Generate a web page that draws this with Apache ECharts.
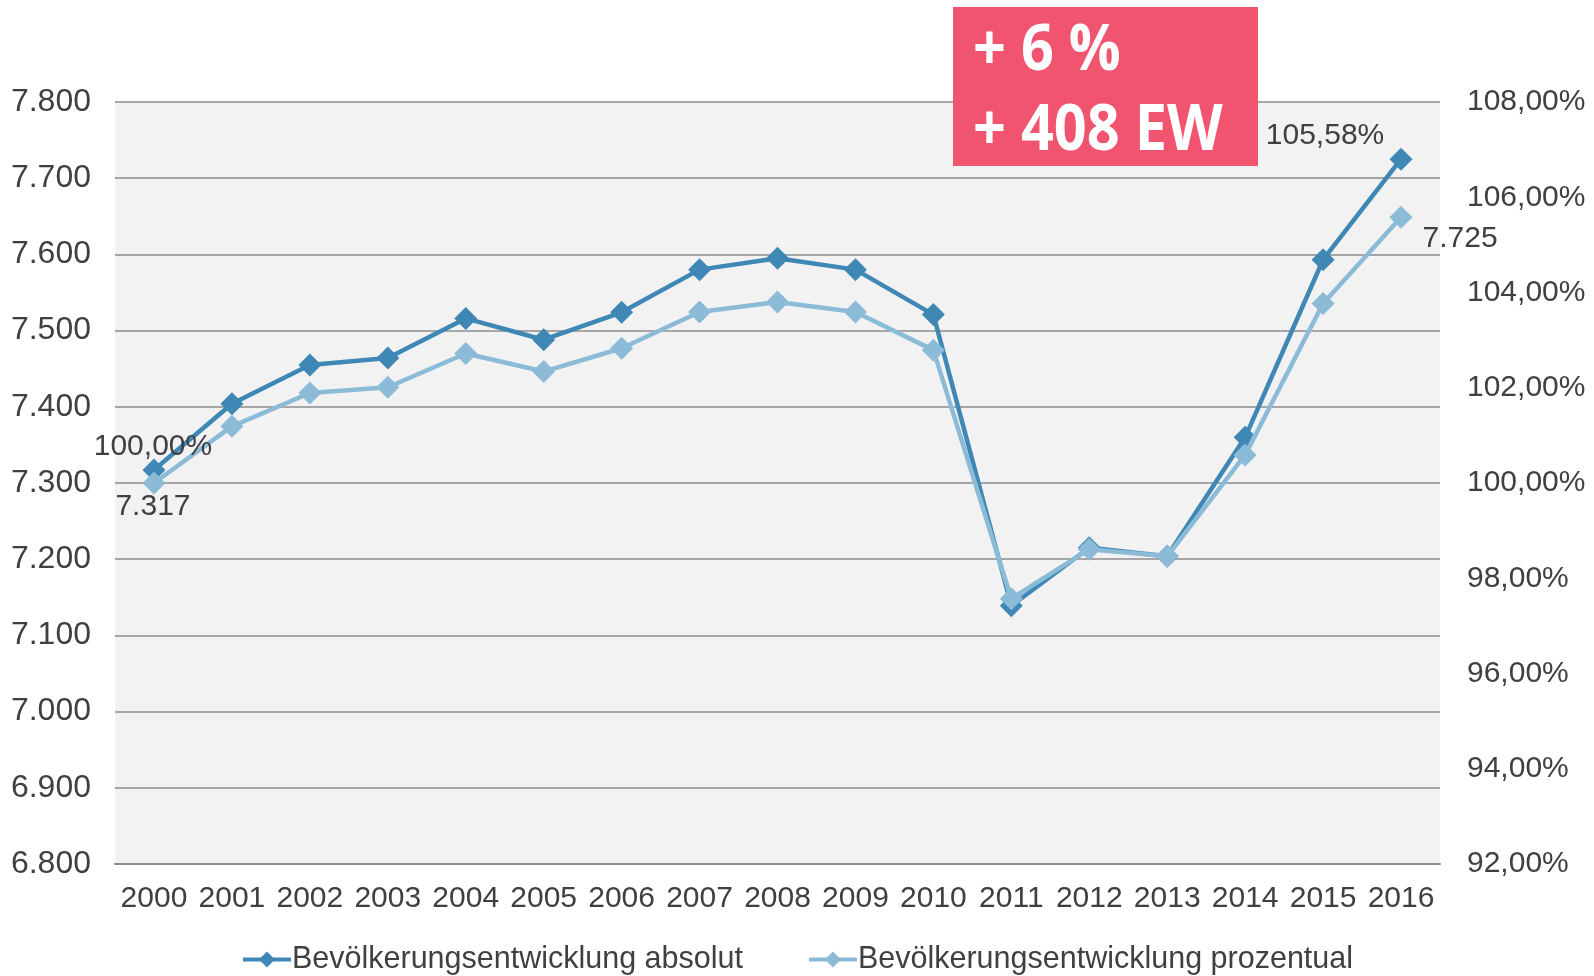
<!DOCTYPE html>
<html>
<head>
<meta charset="utf-8">
<script src="https://cdn.jsdelivr.net/npm/echarts@6/dist/echarts.min.js"></script>
<style>
  html, body { margin: 0; padding: 0; background: #fff; }
  #main { width: 1594px; height: 976px; }
</style>
</head>
<body>
<div id="main"></div>
<script>
// Jahre
var years = ['2000', '2001', '2002', '2003', '2004', '2005', '2006', '2007', '2008',
             '2009', '2010', '2011', '2012', '2013', '2014', '2015', '2016'];
// Einwohner absolut (linke Achse)
var absolut = [7317, 7404, 7455, 7464, 7516, 7488, 7524, 7580, 7595,
               7580, 7521, 7139, 7215, 7204, 7360, 7593, 7725];
// Einwohner in % von 2000 (rechte Achse)
var prozentual = [100.00, 101.19, 101.89, 102.01, 102.72, 102.34, 102.83, 103.59, 103.80,
                  103.59, 102.79, 97.57, 98.61, 98.46, 100.59, 103.77, 105.58];
var leftTicks = { min: 6800, max: 7800, interval: 100 };
var rightTicks = { min: 92, max: 108, interval: 2 };

var darkBlue = '#3f87b5';
var lightBlue = '#8bbbd7';
var txt = '#404040';
var font = 'Liberation Sans, Arial, sans-serif';

function fmtAbs(v) {
    return String(v).replace(/\B(?=(\d{3})+(?!\d))/g, '.');
}
function fmtPct(v) {
    return v.toFixed(2).replace('.', ',') + '%';
}

var last = years.length - 1;
// nur erster und letzter Punkt bekommen ein Label
var absData = absolut.map(function (v, i) {
    if (i === 0) return { value: v, label: { show: true, position: 'inside', offset: [-1, 37] } };
    if (i === last) return { value: v, label: { show: true, position: 'inside', offset: [59, 80] } };
    return v;
});
var pctData = prozentual.map(function (v, i) {
    if (i === 0) return { value: v, label: { show: true, position: 'inside', offset: [-1, -36] } };
    if (i === last) return { value: v, label: { show: true, position: 'inside', offset: [-76, -82] } };
    return v;
});

var chart = echarts.init(document.getElementById('main'));
var option = {
    animation: false,
    textStyle: { fontFamily: font },
    grid: {
        left: 115, right: 154, top: 102, bottom: 112,
        show: true, backgroundColor: '#f2f2f2', borderWidth: 0
    },
    xAxis: {
        type: 'category',
        data: years,
        boundaryGap: true,
        axisLine: { lineStyle: { color: '#8c8c8c', width: 2 } },
        axisTick: { show: false },
        axisLabel: { color: txt, fontSize: 30, margin: 20, fontFamily: font, interval: 0 }
    },
    yAxis: [{
        type: 'value',
        min: leftTicks.min, max: leftTicks.max, interval: leftTicks.interval,
        axisLine: { show: false },
        axisTick: { show: false },
        splitLine: { lineStyle: { color: '#8c8c8c', width: 1.5 } },
        axisLabel: { color: txt, fontSize: 32, margin: 24, fontFamily: font, formatter: fmtAbs }
    }, {
        type: 'value',
        min: rightTicks.min, max: rightTicks.max, interval: rightTicks.interval,
        axisLine: { show: false },
        axisTick: { show: false },
        splitLine: { show: false },
        axisLabel: { color: txt, fontSize: 30, margin: 27, fontFamily: font, formatter: fmtPct }
    }],
    legend: {
        bottom: -4,
        left: 'center',
        itemWidth: 48,
        itemHeight: 20,
        itemGap: 64,
        lineStyle: { width: 4 },
        textStyle: { color: txt, fontSize: 30.5, fontFamily: font, padding: [0, 0, 0, -4] },
        data: ['Bevölkerungsentwicklung absolut', 'Bevölkerungsentwicklung prozentual']
    },
    series: [{
        name: 'Bevölkerungsentwicklung absolut',
        type: 'line',
        yAxisIndex: 0,
        data: absData,
        symbol: 'diamond',
        symbolSize: 23,
        itemStyle: { color: darkBlue },
        lineStyle: { color: darkBlue, width: 4.5 },
        label: { show: false, color: txt, fontSize: 30, fontFamily: font,
                 formatter: function (p) { return fmtAbs(p.value); } },
        z: 2
    }, {
        name: 'Bevölkerungsentwicklung prozentual',
        type: 'line',
        yAxisIndex: 1,
        data: pctData,
        symbol: 'diamond',
        symbolSize: 23,
        itemStyle: { color: lightBlue },
        lineStyle: { color: lightBlue, width: 4.5 },
        label: { show: false, color: txt, fontSize: 30, fontFamily: font,
                 formatter: function (p) { return fmtPct(p.value); } },
        z: 3
    }],
    graphic: [{
        type: 'rect',
        shape: { x: 953, y: 7, width: 305, height: 159 },
        style: { fill: '#f0546f' },
        z: 10
    }, {
        type: 'text',
        x: 973, y: 52, scaleX: 0.9,
        style: { text: '+ 6 %', fill: '#fff', font: 'bold 64px "Open Sans", sans-serif', textVerticalAlign: 'middle' },
        z: 11
    }, {
        type: 'text',
        x: 973, y: 132, scaleX: 0.9,
        style: { text: '+ 408 EW', fill: '#fff', font: 'bold 64px "Open Sans", sans-serif', textVerticalAlign: 'middle' },
        z: 11
    }]
};
chart.setOption(option);
</script>
</body>
</html>
